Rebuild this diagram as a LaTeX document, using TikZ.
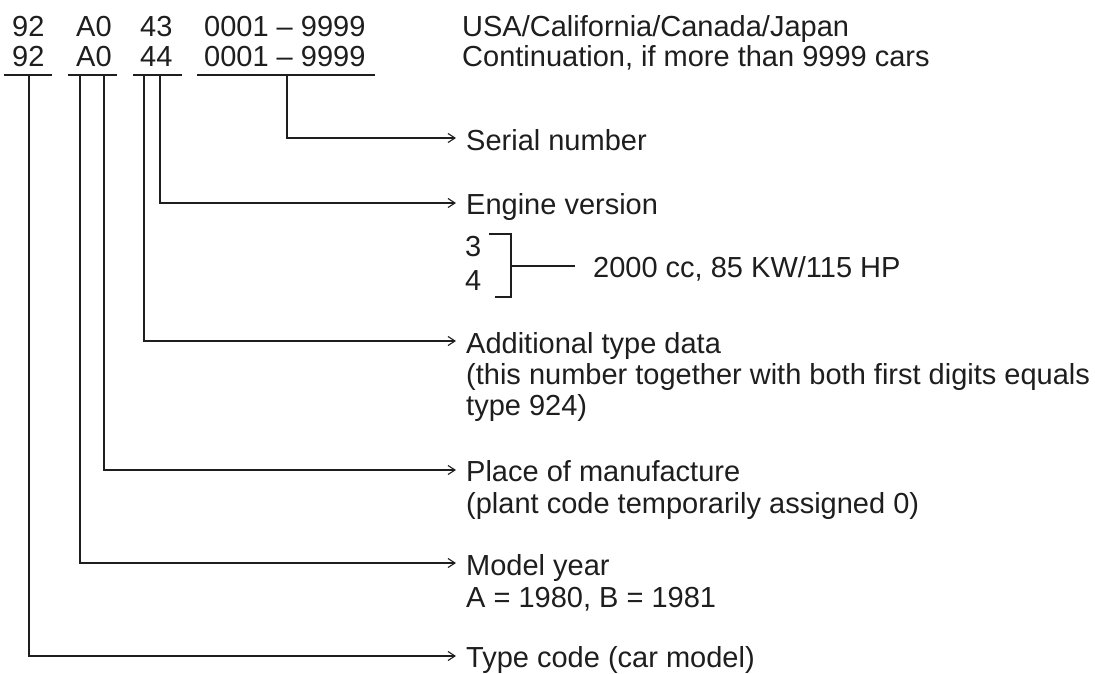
\documentclass[tikz,border=0pt]{standalone}
\usepackage{fontspec}
\setmainfont{Liberation Sans}
\usetikzlibrary{arrows.meta}
\definecolor{ink}{HTML}{1E1E1E}
\begin{document}
\begin{tikzpicture}[x=1pt,y=-1pt,
  txt/.style={anchor=base west,inner sep=0pt,text=ink,font=\fontsize{29}{32}\selectfont},
  ln/.style={draw=ink,line width=1.1pt},
  conn/.style={ln,-{Straight Barb[length=7pt,width=9pt]}}]
\useasboundingbox[fill=white] (0,0) rectangle (1095,674);
% code rows
\node[txt] (a1) at (12,37) {92};
\node[txt] (b1) at (76,37) {A0};
\node[txt] (c1) at (140,37) {43};
\node[txt] (d1) at (204,37) {0001 – 9999};
\node[txt] (a2) at (12,67) {92};
\node[txt] (b2) at (76,67) {A0};
\node[txt] (c2) at (140,67) {44};
\node[txt] (d2) at (204,67) {0001 – 9999};
\node[txt] (r1) at (462,37) {USA/California/Canada/Japan};
\node[txt] (r2) at (462,67) {Continuation, if more than 9999 cars};
% underlines
\coordinate (ua0) at (4,75);   \coordinate (ua1) at (52,75);
\coordinate (ub0) at (68,75);  \coordinate (ub1) at (117,75);
\coordinate (uc0) at (133,75); \coordinate (uc1) at (182,75);
\coordinate (ud0) at (197,75); \coordinate (ud1) at (375,75);
\draw[ln] (ua0) -- (ua1);
\draw[ln] (ub0) -- (ub1);
\draw[ln] (uc0) -- (uc1);
\draw[ln] (ud0) -- (ud1);
% connector start points
\coordinate (sType) at (29,75);
\coordinate (sYear) at (80,75);
\coordinate (sPlace) at (104,75);
\coordinate (sAdd) at (144,75);
\coordinate (sEng) at (160,75);
\coordinate (sSer) at (287,75);
% arrow tips
\coordinate (tSer) at (456,138);
\coordinate (tEng) at (456,203);
\coordinate (tAdd) at (456,341);
\coordinate (tPlace) at (456,470);
\coordinate (tYear) at (456,563);
\coordinate (tType) at (456,656);
% labels
\node[txt] (ser) at (466,150) {Serial number};
\node[txt] (eng) at (466,214) {Engine version};
\node[txt] (e3) at (465,256) {3};
\node[txt] (e4) at (465,290) {4};
\node[txt] (cc) at (593,277) {2000 cc, 85 KW/115 HP};
\node[txt] (add1) at (466,353) {Additional type data};
\node[txt] (add2) at (466,384) {(this number together with both first digits equals};
\node[txt] (add3) at (466,415) {type 924)};
\node[txt] (pl1) at (466,481) {Place of manufacture};
\node[txt] (pl2) at (466,513) {(plant code temporarily assigned 0)};
\node[txt] (my1) at (466,575) {Model year};
\node[txt] (my2) at (466,607) {A = 1980, B = 1981};
\node[txt] (tc) at (466,667) {Type code (car model)};
% connectors
\draw[conn] (sSer) |- (tSer);
\draw[conn] (sEng) |- (tEng);
\draw[conn] (sAdd) |- (tAdd);
\draw[conn] (sPlace) |- (tPlace);
\draw[conn] (sYear) |- (tYear);
\draw[conn] (sType) |- (tType);
% bracket
\coordinate (bk1) at (489,234);
\coordinate (bk2) at (511,234);
\coordinate (bk3) at (511,297);
\coordinate (bk4) at (495,297);
\coordinate (bkm) at (511,266);
\coordinate (bke) at (575,266);
\draw[ln] (bk1) -- (bk2) -- (bk3) -- (bk4);
\draw[ln] (bkm) -- (bke);
\end{tikzpicture}
\end{document}
